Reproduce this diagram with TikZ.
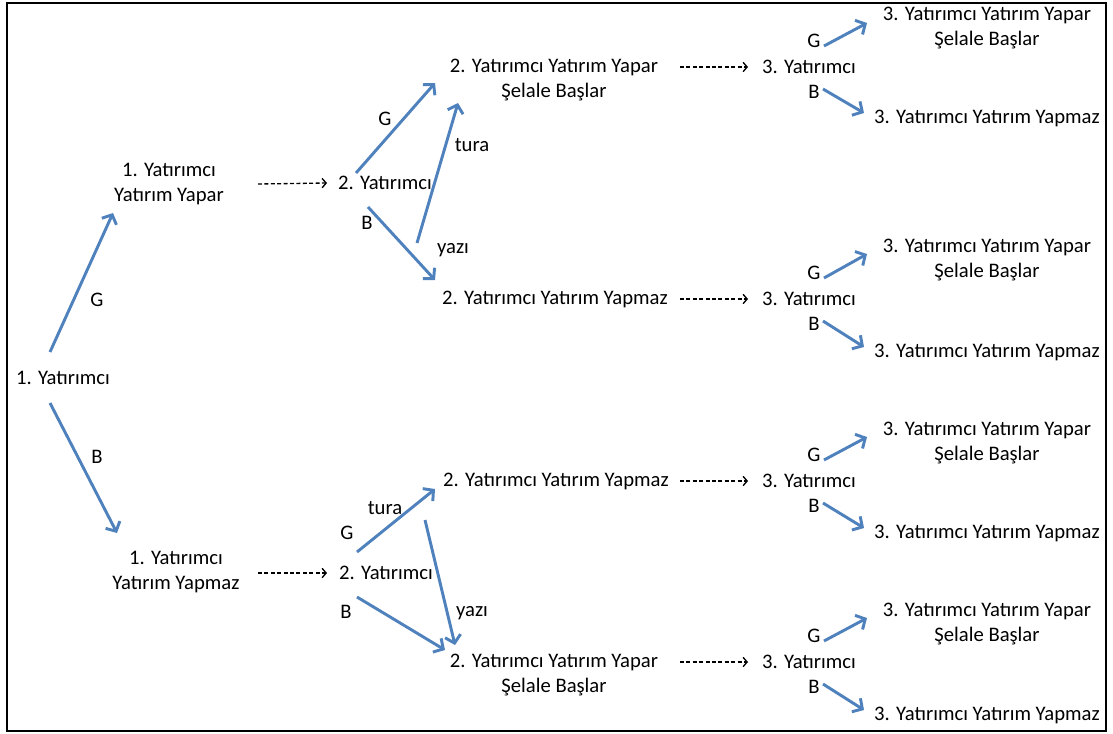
\documentclass[tikz,border=0pt]{standalone}
\usepackage{fontspec}
\setmainfont{Carlito}
\usetikzlibrary{arrows.meta, calc}

\definecolor{arrblue}{HTML}{4F81BD}
\tikzset{
  every node/.style={font=\fontsize{15.5}{19.4}\selectfont, inner sep=1pt},
  txt/.style={align=center},
  arr/.style={draw=arrblue, line width=2.2pt, -{Straight Barb[length=5.5pt,width=12pt]}},
  dots/.style={draw=black, line width=1pt, dash pattern=on 3pt off 1.8pt,
    -{Straight Barb[length=3pt,width=7pt,line width=1pt]}},
}

\begin{document}
\begin{tikzpicture}[x=0.75pt, y=-0.75pt]
\useasboundingbox (0,0) rectangle (1113,733);
\draw[line width=1.5pt] (7,3) rectangle (1106,731);

% first investor
\node (r) at (63,378) {1. Yatırımcı};
\node[txt] (y1) at (169,184) {1. Yatırımcı\\Yatırım Yapar};
\node[txt] (n1) at (176,572) {1. Yatırımcı\\Yatırım Yapmaz};
\node (lg0) at (97,300) {G};
\node (lb0) at (97,457) {B};
\draw[arr] ($(r)+(-13,-26)$) -- ($(y1)+(-56,29)$);
\draw[arr] ($(r)+(-13,25)$) -- ($(n1)+(-59,-39)$);

% second investor
\node (a2) at (385,183) {2. Yatırımcı};
\node (a3) at (386,573) {2. Yatırımcı};
\draw[dots] ($(y1)+(89,0)$) -- ($(a2)+(-58,0)$);
\draw[dots] ($(n1)+(82,1)$) -- ($(a3)+(-59,0)$);

\node[txt] (p2) at (554,80) {2. Yatırımcı Yatırım Yapar\\Şelale Başlar};
\node (m2) at (555,299) {2. Yatırımcı Yatırım Yapmaz};
\node (m3) at (556,481) {2. Yatırımcı Yatırım Yapmaz};
\node[txt] (p3) at (554,675) {2. Yatırımcı Yatırım Yapar\\Şelale Başlar};

\node (lg1) at (385,119) {G};
\node (lb1) at (367,223) {B};
\node (lt1) at (472,145) {tura};
\node (ly1) at (453,250) {yazı};
\draw[arr] ($(a2)+(-29,-10)$) -- ($(p2)+(-119,3)$);
\draw[arr] ($(a2)+(-17,24)$) -- ($(m2)+(-120,-19)$);
\draw[arr] ($(m2)+(-138,-56)$) -- ($(p2)+(-96,23)$);

\node (lt2) at (385,508) {tura};
\node (lg2) at (347,533) {G};
\node (lb2) at (346,612) {B};
\node (ly2) at (472,613) {yazı};
\draw[arr] ($(a3)+(-29,-21)$) -- ($(m3)+(-121,8)$);
\draw[arr] ($(a3)+(-29,24)$) -- ($(p3)+(-109,-25)$);
\draw[arr] ($(m3)+(-131,39)$) -- ($(p3)+(-99,-30)$);

% third investor
\node (t3a) at (809,67) {3. Yatırımcı};
\node (t3b) at (809,299) {3. Yatırımcı};
\node (t3c) at (809,481) {3. Yatırımcı};
\node (t3d) at (809,662) {3. Yatırımcı};
\draw[dots] ($(p2)+(126,-13)$) -- ($(t3a)+(-61,0)$);
\draw[dots] ($(m2)+(125,0)$) -- ($(t3b)+(-61,0)$);
\draw[dots] ($(m3)+(124,0)$) -- ($(t3c)+(-61,0)$);
\draw[dots] ($(p3)+(126,-13)$) -- ($(t3d)+(-61,0)$);

\node[txt] (qa) at (987,28) {3. Yatırımcı Yatırım Yapar\\Şelale Başlar};
\node (ka) at (987,118) {3. Yatırımcı Yatırım Yapmaz};
\node[txt] (qb) at (987,260) {3. Yatırımcı Yatırım Yapar\\Şelale Başlar};
\node (kb) at (987,352) {3. Yatırımcı Yatırım Yapmaz};
\node[txt] (qc) at (987,443) {3. Yatırımcı Yatırım Yapar\\Şelale Başlar};
\node (kc) at (987,533) {3. Yatırımcı Yatırım Yapmaz};
\node[txt] (qd) at (987,624) {3. Yatırımcı Yatırım Yapar\\Şelale Başlar};
\node (kd) at (987,715) {3. Yatırımcı Yatırım Yapmaz};

\node (lg3) at (814,41) {G};
\node (lb3) at (814,92) {B};
\node (lg4) at (814,273) {G};
\node (lb4) at (814,324) {B};
\node (lg5) at (814,455) {G};
\node (lb5) at (814,506) {B};
\node (lg6) at (814,636) {G};
\node (lb6) at (814,687) {B};

\draw[arr] ($(t3a)+(15,-21)$) -- ($(qa)+(-120,-5)$);
\draw[arr] ($(t3a)+(14,22)$) -- ($(ka)+(-123,-5)$);
\draw[arr] ($(t3b)+(15,-21)$) -- ($(qb)+(-120,-6)$);
\draw[arr] ($(t3b)+(14,22)$) -- ($(kb)+(-123,-5)$);
\draw[arr] ($(t3c)+(15,-21)$) -- ($(qc)+(-120,-6)$);
\draw[arr] ($(t3c)+(14,22)$) -- ($(kc)+(-123,-5)$);
\draw[arr] ($(t3d)+(15,-21)$) -- ($(qd)+(-120,-6)$);
\draw[arr] ($(t3d)+(14,22)$) -- ($(kd)+(-123,-5)$);
\end{tikzpicture}
\end{document}
